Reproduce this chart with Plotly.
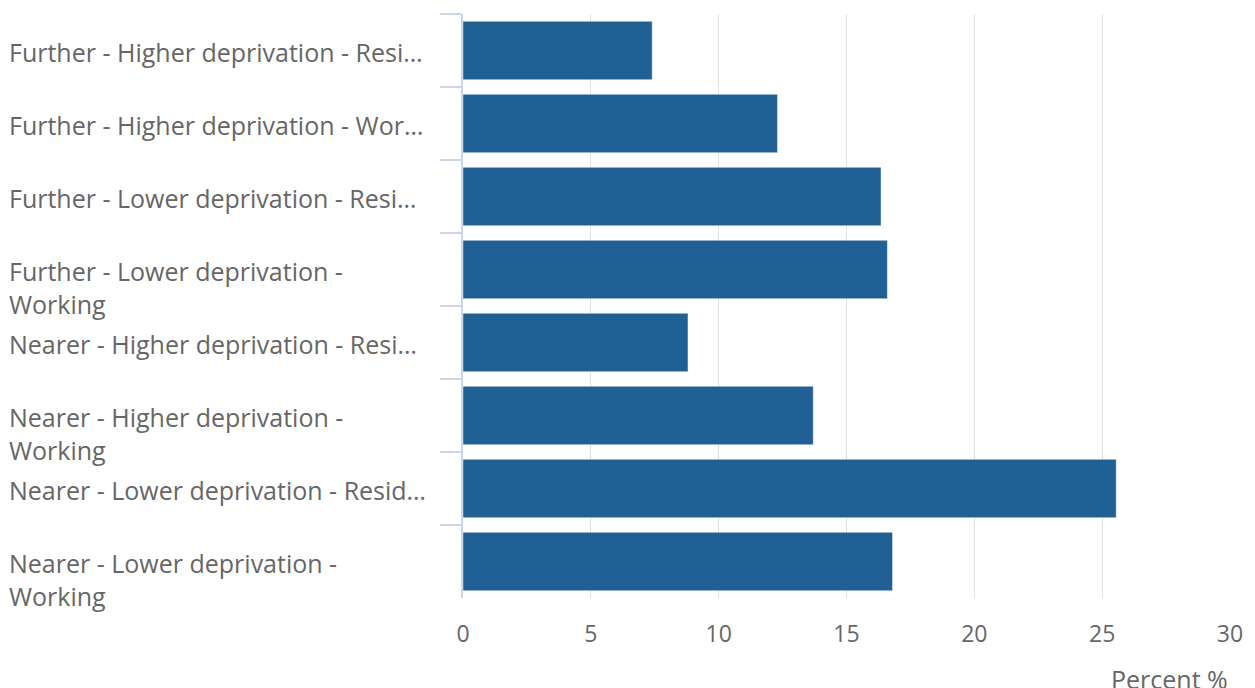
import plotly.graph_objects as go

categories = [
    "Further - Higher deprivation - Residential",
    "Further - Higher deprivation - Working",
    "Further - Lower deprivation - Residential",
    "Further - Lower deprivation - Working",
    "Nearer - Higher deprivation - Residential",
    "Nearer - Higher deprivation - Working",
    "Nearer - Lower deprivation - Residential",
    "Nearer - Lower deprivation - Working",
]
tick_labels = [
    "Further - Higher deprivation - Resi…",
    "Further - Higher deprivation - Wor…",
    "Further - Lower deprivation - Resi…",
    "Further - Lower deprivation -<br>Working",
    "Nearer - Higher deprivation - Resi…",
    "Nearer - Higher deprivation -<br>Working",
    "Nearer - Lower deprivation - Resid…",
    "Nearer - Lower deprivation -<br>Working",
]
values = [7.4, 12.3, 16.35, 16.6, 8.8, 13.7, 25.55, 16.8]
x_ticks = [0, 5, 10, 15, 20, 25, 30]
x_title = "Percent %"

FONT = "Open Sans"
TXT = "#666666"
FS = 25

fig = go.Figure(
    go.Bar(
        x=values,
        y=categories,
        orientation="h",
        marker=dict(color="#206095", line=dict(color="rgba(255,255,255,0.45)", width=1)),
        hoverinfo="x+y",
    )
)

annotations = []
for cat, lab in zip(categories, tick_labels):
    annotations.append(dict(
        x=0, xref="paper", xshift=-456, xanchor="left",
        y=cat, yref="y", yanchor="top", yshift=18,
        text=lab, align="left", showarrow=False,
        font=dict(family=FONT, size=FS, color=TXT),
    ))
annotations.append(dict(
    x=1, xref="paper", xanchor="right",
    y=0, yref="paper", yanchor="top", yshift=-62,
    text=x_title, showarrow=False,
    font=dict(family=FONT, size=FS, color=TXT),
))

fig.update_layout(
    width=1255, height=688,
    margin=dict(l=463, r=25, t=14, b=90),
    paper_bgcolor="white", plot_bgcolor="white",
    bargap=0.2,
    showlegend=False,
    font=dict(family=FONT, size=FS, color=TXT),
    xaxis=dict(
        range=[0, 30], tickvals=x_ticks, showgrid=True, gridcolor="#e0e0e0", gridwidth=1,
        zeroline=False, showline=False, ticks="",
        tickfont=dict(family=FONT, size=FS - 2, color=TXT),
        ticklabelstandoff=20,
        fixedrange=True,
    ),
    yaxis=dict(
        autorange="reversed", showticklabels=False, tickson="boundaries",
        ticks="outside", ticklen=21, tickcolor="#ccd6eb", tickwidth=1.5,
        showline=True, linecolor="#ccd6eb", linewidth=1.5,
        showgrid=False, zeroline=False, fixedrange=True,
    ),
    annotations=annotations,
)

fig.write_html("out.html")
